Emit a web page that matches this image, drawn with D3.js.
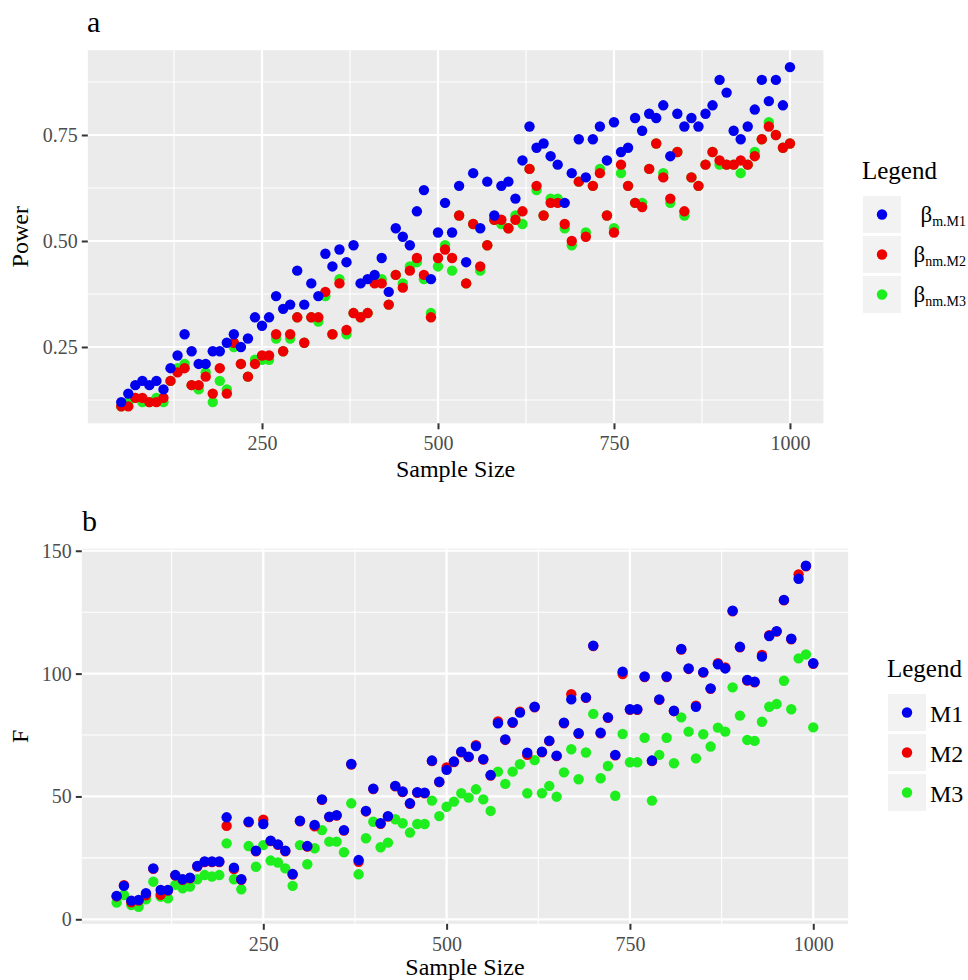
<!DOCTYPE html>
<html>
<head>
<meta charset="utf-8">
<title>Power and F by sample size</title>
<script src="https://d3js.org/d3.v7.min.js"></script>
<style>
  body { margin: 0; background: #fff; }
  svg { display: block; font-family: "Liberation Serif", "Times New Roman", serif; }
  .tick text { fill: #4d4d4d; }
  .tick line { stroke: #333; stroke-width: 2; }
  .domain { display: none; }
</style>
</head>
<body>
<script>
// ---- data ----
var sampleSize = [50,60,70,80,90,100,110,120,130,140,
  150,160,170,180,190,200,210,220,230,240,
  250,260,270,280,290,300,310,320,330,340,
  350,360,370,380,390,400,410,420,430,440,
  450,460,470,480,490,500,510,520,530,540,
  550,560,570,580,590,600,610,620,630,640,
  650,660,670,680,690,700,710,720,730,740,
  750,760,770,780,790,800,810,820,830,840,
  850,860,870,880,890,900,910,920,930,940,
  950,960,970,980,990,1000];

// panel a: power
var powerM1 = [0.12,0.14,0.16,0.17,0.16,0.17,0.15,0.20,0.23,0.28,
  0.24,0.21,0.21,0.24,0.24,0.26,0.28,0.25,0.27,0.32,
  0.30,0.32,0.37,0.34,0.35,0.43,0.35,0.40,0.37,0.47,
  0.44,0.48,0.45,0.49,0.40,0.41,0.42,0.46,0.38,0.53,
  0.51,0.49,0.57,0.62,0.41,0.52,0.59,0.52,0.63,0.45,
  0.66,0.53,0.64,0.56,0.63,0.64,0.60,0.69,0.77,0.72,
  0.73,0.70,0.68,0.59,0.66,0.74,0.65,0.74,0.77,0.69,
  0.78,0.71,0.72,0.79,0.76,0.80,0.79,0.82,0.70,0.80,
  0.77,0.79,0.77,0.80,0.82,0.88,0.85,0.76,0.74,0.77,
  0.81,0.88,0.83,0.88,0.82,0.91];
var powerM2 = [0.11,0.11,0.13,0.13,0.12,0.12,0.13,0.17,0.19,0.20,
  0.16,0.16,0.18,0.14,0.20,0.14,0.26,0.21,0.18,0.21,
  0.23,0.23,0.28,0.24,0.28,0.32,0.26,0.32,0.32,0.38,
  0.28,0.40,0.29,0.33,0.32,0.33,0.40,0.40,0.35,0.42,
  0.39,0.43,0.46,0.42,0.32,0.46,0.48,0.46,0.56,0.40,
  0.54,0.44,0.49,0.55,0.55,0.53,0.55,0.57,0.67,0.63,
  0.56,0.59,0.59,0.54,0.50,0.64,0.51,0.63,0.66,0.56,
  0.52,0.68,0.63,0.59,0.58,0.67,0.73,0.65,0.60,0.71,
  0.57,0.65,0.63,0.68,0.71,0.69,0.68,0.68,0.69,0.68,
  0.70,0.74,0.77,0.75,0.72,0.73];
var powerM3 = [0.11,0.12,0.13,0.12,0.12,0.13,0.12,0.17,0.20,0.21,
  0.16,0.15,0.19,0.12,0.17,0.15,0.25,0.21,0.18,0.22,
  0.22,0.22,0.27,0.24,0.27,0.32,0.26,0.32,0.31,0.37,
  0.28,0.41,0.28,0.33,0.32,0.33,0.41,0.41,0.35,0.42,
  0.40,0.44,0.45,0.41,0.33,0.44,0.49,0.43,0.56,0.40,
  0.54,0.43,0.49,0.55,0.54,0.53,0.56,0.54,0.67,0.62,
  0.56,0.60,0.60,0.53,0.49,0.64,0.52,0.63,0.67,0.56,
  0.53,0.66,0.63,0.59,0.59,0.67,0.73,0.66,0.59,0.71,
  0.56,0.65,0.63,0.68,0.71,0.68,0.68,0.68,0.66,0.68,
  0.71,0.74,0.78,0.75,0.72,0.73];

// panel b: F
var fM1 = [9.5,13.6,7.6,7.9,10.6,20.7,11.9,11.9,18.0,16.3,
  16.9,21.7,23.5,23.5,23.5,41.5,21.0,16.3,39.7,27.9,
  38.8,32.0,30.5,27.9,18.4,40.1,29.8,38.4,48.8,41.8,
  42.4,36.3,63.2,24.1,44.1,53.2,39.1,42.0,54.3,52.0,
  47.2,51.7,51.5,64.6,56.0,60.8,64.2,68.2,66.2,70.5,
  65.2,58.7,79.8,73.2,80.2,84.1,67.8,86.5,68.2,72.7,
  66.6,80.0,89.5,75.7,90.3,111.4,75.9,82.2,66.9,100.8,
  85.5,85.5,98.8,64.6,89.5,98.8,84.9,110.0,102.1,86.5,
  100.6,94.0,103.8,102.1,125.6,110.9,97.4,96.7,106.9,115.3,
  117.3,130.0,114.2,138.6,143.9,104.2];
var fM2 = [9.3,13.9,6.9,7.6,9.8,20.5,10.0,11.7,17.8,16.1,
  16.7,21.5,23.3,23.3,23.3,38.0,20.4,16.1,39.5,27.7,
  40.5,31.8,30.3,27.7,18.2,39.9,29.6,37.8,48.6,41.6,
  42.2,36.1,63.0,23.4,43.9,53.0,38.9,41.8,54.1,51.8,
  47.0,51.5,51.3,64.4,55.8,61.8,64.0,68.0,66.0,70.9,
  65.0,58.5,80.5,73.0,80.0,84.5,66.9,86.3,68.0,72.5,
  66.4,79.8,91.6,75.5,90.1,111.2,75.7,82.0,66.7,99.8,
  85.3,85.3,98.6,64.4,89.3,98.6,84.7,109.8,101.9,86.9,
  100.4,93.8,104.2,102.5,125.4,110.7,97.2,96.5,107.6,115.6,
  117.1,129.8,114.0,140.4,143.7,104.0];
var fM3 = [6.8,9.9,5.8,5.1,8.1,15.3,9.2,8.5,14.0,12.6,
  13.3,16.3,18.0,17.4,18.0,30.9,16.3,12.2,29.8,21.4,
  30.2,23.9,23.1,20.7,13.6,30.2,22.4,28.9,36.3,31.6,
  31.6,27.3,47.2,18.3,33.0,39.7,29.3,31.2,40.7,39.1,
  35.3,38.8,38.8,48.3,42.0,45.8,47.9,51.3,49.5,52.9,
  48.8,44.1,60.1,55.1,60.1,63.1,51.3,64.8,51.3,54.3,
  49.9,59.8,69.2,57.0,67.9,83.6,57.4,62.4,50.3,75.4,
  63.9,63.9,73.9,48.3,66.9,73.9,63.5,82.2,76.4,65.5,
  75.3,70.3,78.0,76.4,94.4,82.9,73.0,72.6,80.4,86.5,
  87.6,97.1,85.5,106.2,107.8,78.1];

var xTicks = [250, 500, 750, 1000];
var powerTicks = [0.25, 0.50, 0.75];
var fTicks = [0, 50, 100, 150];
var powerLegend = ["m.M1", "nm.M2", "nm.M3"];
var fLegend = ["M1", "M2", "M3"];
var colors = ["#0000ee", "#ee0000", "#1eee1e"];

// ---- drawing ----
var serif = "'Liberation Serif', 'Times New Roman', serif";
var svg = d3.select("body").append("svg").attr("width", 968).attr("height", 980);
svg.append("rect").attr("width", 968).attr("height", 980).attr("fill", "#fff");

// ggplot-like 5% expansion
function expand(ext) {
  var d = (ext[1] - ext[0]) * 0.05;
  return [ext[0] - d, ext[1] + d];
}

function panel(opt) {
  var g = svg.append("g");
  var x = d3.scaleLinear().domain(expand(d3.extent(sampleSize))).range([opt.left, opt.right]);
  var allY = d3.merge(opt.series);
  var y = d3.scaleLinear().domain(expand(d3.extent(allY))).range([opt.bottom, opt.top]);

  g.append("rect").attr("x", opt.left).attr("y", opt.top)
    .attr("width", opt.right - opt.left).attr("height", opt.bottom - opt.top)
    .attr("fill", "#ebebeb");

  // minor grid = midpoints between major ticks
  var xMinor = [125, 375, 625, 875];
  g.selectAll(".xminor").data(xMinor).enter().append("line")
    .attr("x1", x).attr("x2", x).attr("y1", opt.top).attr("y2", opt.bottom)
    .attr("stroke", "#fff").attr("stroke-width", 1.1);
  g.selectAll(".yminor").data(opt.yMinor).enter().append("line")
    .attr("y1", y).attr("y2", y).attr("x1", opt.left).attr("x2", opt.right)
    .attr("stroke", "#fff").attr("stroke-width", 1.1);
  g.selectAll(".xmajor").data(xTicks).enter().append("line")
    .attr("x1", x).attr("x2", x).attr("y1", opt.top).attr("y2", opt.bottom)
    .attr("stroke", "#fff").attr("stroke-width", 2.2);
  g.selectAll(".ymajor").data(opt.yTicks).enter().append("line")
    .attr("y1", y).attr("y2", y).attr("x1", opt.left).attr("x2", opt.right)
    .attr("stroke", "#fff").attr("stroke-width", 2.2);

  // points: M3 first, then M2, then M1 on top
  for (var s = opt.series.length - 1; s >= 0; s--) {
    g.append("g").selectAll("circle")
      .data(opt.series[s])
      .enter().append("circle")
      .attr("cx", function(d, i) { return x(sampleSize[i]); })
      .attr("cy", function(d) { return y(d); })
      .attr("r", 5.2)
      .attr("fill", colors[s]);
  }

  // axes (d3 sets sans-serif on the axis group, put the serif back)
  g.append("g").attr("transform", "translate(0," + opt.bottom + ")")
    .call(d3.axisBottom(x).tickValues(xTicks).tickSize(6).tickPadding(7).tickFormat(d3.format("d")))
    .attr("font-family", serif).attr("font-size", 20);
  g.append("g").attr("transform", "translate(" + opt.left + ",0)")
    .call(d3.axisLeft(y).tickValues(opt.yTicks).tickSize(6).tickPadding(4).tickFormat(opt.yFormat))
    .attr("font-family", serif).attr("font-size", 20);

  // titles
  g.append("text").attr("x", (opt.left + opt.right) / 2).attr("y", opt.bottom + opt.xTitleGap)
    .attr("text-anchor", "middle").attr("font-size", 24).text("Sample Size");
  g.append("text").attr("transform", "translate(28," + (opt.top + opt.bottom) / 2 + ") rotate(-90)")
    .attr("text-anchor", "middle").attr("font-size", 24).text(opt.yTitle);
  g.append("text").attr("x", opt.tagX).attr("y", opt.top - 18)
    .attr("font-size", 30).text(opt.tag);

  // legend
  var lg = g.append("g");
  lg.append("text").attr("x", opt.legX).attr("y", opt.legY)
    .attr("font-size", 25).text("Legend");
  opt.legend.forEach(function(lab, i) {
    var ky = opt.legY + 17 + i * 40;
    lg.append("rect").attr("x", opt.legX + 1).attr("y", ky)
      .attr("width", 38).attr("height", 37).attr("fill", "#f2f2f2");
    lg.append("circle").attr("cx", opt.legX + 20).attr("cy", ky + 18.5)
      .attr("r", 5.2).attr("fill", colors[i]);
    opt.drawLabel(lg, lab, ky);
  });
}

panel({
  left: 87.8, right: 823.4, top: 50.2, bottom: 423.3,
  series: [powerM1, powerM2, powerM3],
  yTicks: powerTicks, yMinor: [0.125, 0.375, 0.625, 0.875],
  yFormat: d3.format(".2f"), yTitle: "Power", xTitleGap: 54,
  tag: "a", tagX: 87,
  legend: powerLegend, legX: 862, legY: 179,
  drawLabel: function(lg, lab, ky) {
    var t = lg.append("text").attr("x", 966).attr("y", ky + 26)
      .attr("text-anchor", "end").attr("font-size", 23);
    t.append("tspan").text("β");
    t.append("tspan").attr("font-size", 14).attr("dy", 4).text(lab);
  }
});

panel({
  left: 81.8, right: 848.1, top: 548.7, bottom: 923.8,
  series: [fM1, fM2, fM3],
  yTicks: fTicks, yMinor: [25, 75, 125],
  yFormat: d3.format("d"), yTitle: "F", xTitleGap: 51,
  tag: "b", tagX: 82,
  legend: fLegend, legX: 887, legY: 677,
  drawLabel: function(lg, lab, ky) {
    lg.append("text").attr("x", 930).attr("y", ky + 28)
      .attr("font-size", 24).text(lab);
  }
});
</script>
</body>
</html>
